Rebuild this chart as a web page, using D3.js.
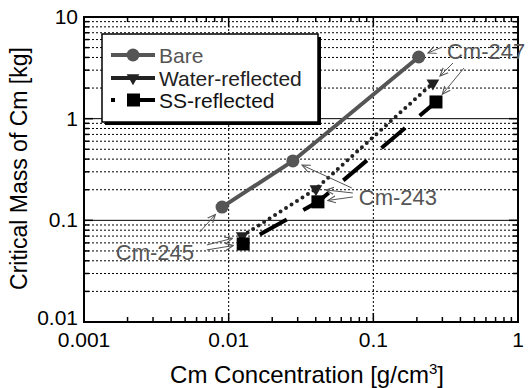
<!DOCTYPE html>
<html>
<head>
<meta charset="utf-8">
<script src="https://cdn.jsdelivr.net/npm/d3@7"></script>
<style>
  body { margin: 0; background: #fff; }
  text { font-family: "Liberation Sans", Arial, sans-serif; }
</style>
</head>
<body>
<div id="chart"></div>
<script>
// Datos
const bareX = [0.0090, 0.0278, 0.206];
const bareY = [0.135, 0.384, 4.04];
const waterX = [0.0124, 0.0401, 0.258];
const waterY = [0.0703, 0.204, 2.24];
const ssX = [0.0126, 0.0414, 0.271];
const ssY = [0.0586, 0.152, 1.46];

const xTicks = [0.001, 0.01, 0.1, 1];
const xTickLabels = ["0.001", "0.01", "0.1", "1"];
const yTicks = [0.01, 0.1, 1, 10];
const yTickLabels = ["0.01", "0.1", "1", "10"];

const legendLabels = ["Bare", "Water-reflected", "SS-reflected"];
const isotopes = ["Cm-245", "Cm-243", "Cm-247"];

// Dimensiones
const W = 532, H = 388;
const margin = { top: 17, right: 14, bottom: 66, left: 84 };
const width = W - margin.left - margin.right;
const height = H - margin.top - margin.bottom;

const svg = d3.select("#chart").append("svg")
    .attr("width", W).attr("height", H);

const defs = svg.append("defs");
defs.append("marker")
    .attr("id", "arrow")
    .attr("viewBox", "0 0 10 10")
    .attr("refX", 9).attr("refY", 5)
    .attr("markerWidth", 9).attr("markerHeight", 9)
    .attr("markerUnits", "userSpaceOnUse")
    .attr("orient", "auto")
    .append("path")
    .attr("d", "M0,1 L9,5 L0,9")
    .attr("fill", "none")
    .attr("stroke", "#555")
    .attr("stroke-width", 1.2);

const g = svg.append("g").attr("transform", `translate(${margin.left},${margin.top})`);

const x = d3.scaleLog().domain([0.001, 1]).range([0, width]);
const y = d3.scaleLog().domain([0.01, 10]).range([height, 0]);

// Valores menores (2..9 por década)
const minorY = [];
[0.01, 0.1, 1].forEach(d => { for (let k = 2; k <= 9; k++) minorY.push(d * k); });
const minorX = [];
[0.001, 0.01, 0.1].forEach(d => { for (let k = 2; k <= 9; k++) minorX.push(d * k); });

// Rejilla
g.selectAll(".hgrid").data(minorY).enter().append("line")
    .attr("x1", 0).attr("x2", width)
    .attr("y1", d => y(d)).attr("y2", d => y(d))
    .attr("stroke", "#000").attr("stroke-width", 1)
    .attr("stroke-dasharray", "2,2");
g.selectAll(".hmajor").data([0.1, 1]).enter().append("line")
    .attr("x1", 0).attr("x2", width)
    .attr("y1", d => y(d)).attr("y2", d => y(d))
    .attr("stroke", "#000").attr("stroke-width", 1);
g.selectAll(".vgrid").data([0.01, 0.1]).enter().append("line")
    .attr("y1", 0).attr("y2", height)
    .attr("x1", d => x(d)).attr("x2", d => x(d))
    .attr("stroke", "#000").attr("stroke-width", 1)
    .attr("stroke-dasharray", "2,2");

// Marcas hacia dentro en los cuatro lados
const tickG = g.append("g").attr("stroke", "#000").attr("stroke-width", 1.5);
minorY.forEach(v => {
    tickG.append("line").attr("x1", 0).attr("x2", 5).attr("y1", y(v)).attr("y2", y(v));
    tickG.append("line").attr("x1", width - 5).attr("x2", width).attr("y1", y(v)).attr("y2", y(v));
});
yTicks.forEach(v => {
    tickG.append("line").attr("x1", 0).attr("x2", 9).attr("y1", y(v)).attr("y2", y(v));
    tickG.append("line").attr("x1", width - 9).attr("x2", width).attr("y1", y(v)).attr("y2", y(v));
});
minorX.forEach(v => {
    tickG.append("line").attr("y1", height).attr("y2", height - 5).attr("x1", x(v)).attr("x2", x(v));
    tickG.append("line").attr("y1", 0).attr("y2", 5).attr("x1", x(v)).attr("x2", x(v));
});
xTicks.forEach(v => {
    tickG.append("line").attr("y1", height).attr("y2", height - 9).attr("x1", x(v)).attr("x2", x(v));
    tickG.append("line").attr("y1", 0).attr("y2", 9).attr("x1", x(v)).attr("x2", x(v));
});

// Marco
g.append("rect").attr("width", width).attr("height", height)
    .attr("fill", "none").attr("stroke", "#000").attr("stroke-width", 2);

// Etiquetas de los ejes
g.selectAll(".xlab").data(xTicks).enter().append("text")
    .attr("x", d => x(d)).attr("y", height + 25)
    .attr("text-anchor", "middle").style("font-size", "21px")
    .text((d, i) => xTickLabels[i]);
g.selectAll(".ylab").data(yTicks).enter().append("text")
    .attr("x", -6).attr("y", (d, i) => y(d) - (i === 0 ? 4 : 0)).attr("dy", "0.33em")
    .attr("text-anchor", "end").style("font-size", "21px")
    .text((d, i) => yTickLabels[i]);

const xt = g.append("text")
    .attr("x", width / 2 + 6).attr("y", height + 61)
    .attr("text-anchor", "middle").style("font-size", "24px");
xt.append("tspan").text("Cm Concentration [g/cm");
xt.append("tspan").attr("dy", -9).style("font-size", "15px").text("3");
xt.append("tspan").attr("dy", 9).text("]");

g.append("text")
    .attr("transform", `translate(${-57},${height / 2 - 1}) rotate(-90)`)
    .attr("text-anchor", "middle").style("font-size", "23px")
    .text("Critical Mass of Cm [kg]");

// Series
const pts = (xs, ys) => xs.map((v, i) => [x(v), y(ys[i])]);
const line = d3.line();

g.append("path").attr("d", line(pts(bareX, bareY)))
    .attr("fill", "none").attr("stroke", "#555").attr("stroke-width", 4);
g.append("path").attr("d", line(pts(waterX, waterY)))
    .attr("fill", "none").attr("stroke", "#222").attr("stroke-width", 4)
    .attr("stroke-linecap", "round").attr("stroke-dasharray", "0,6.5");
g.append("path").attr("d", line(pts(ssX, ssY)))
    .attr("fill", "none").attr("stroke", "#000").attr("stroke-width", 4)
    .attr("stroke-dasharray", "31,19").attr("stroke-dashoffset", 31);

const tri = d3.symbol().type(d3.symbolTriangle).size(70);
g.selectAll(".bare").data(pts(bareX, bareY)).enter().append("circle")
    .attr("cx", d => d[0]).attr("cy", d => d[1]).attr("r", 6.5).attr("fill", "#555");
g.selectAll(".water").data(pts(waterX, waterY)).enter().append("path")
    .attr("d", tri).attr("fill", "#222")
    .attr("transform", d => `translate(${d[0]},${d[1]}) rotate(180)`);
g.selectAll(".ss").data(pts(ssX, ssY)).enter().append("rect")
    .attr("x", d => d[0] - 6.5).attr("y", d => d[1] - 6.5)
    .attr("width", 13).attr("height", 13).attr("fill", "#000");

// Anotaciones de isótopos: posición del texto (datos) y orígenes de flecha (px relativos al texto)
const annX = [0.00166, 0.0794, 0.323];
const annY = [0.0408, 0.1416, 3.86];
const arrowOffsets = [
    [[84, -28], [91, -15], [91, -10]],
    [[-7, -17], [-6, -12], [-6, -8]],
    [[-5, -12], [6, 4], [17, 9]]
];
const seriesPts = [pts(bareX, bareY), pts(waterX, waterY), pts(ssX, ssY)];

isotopes.forEach((label, i) => {
    const tx = x(annX[i]), ty = y(annY[i]);
    g.append("text").attr("x", tx).attr("y", ty)
        .style("font-size", "22px").attr("fill", "#555").text(label);
    arrowOffsets[i].forEach((o, s) => {
        const sx = tx + o[0], sy = ty + o[1];
        const t = seriesPts[s][i];
        const dx = sx - t[0], dy = sy - t[1];
        const len = Math.hypot(dx, dy);
        const gap = 10;
        g.append("line")
            .attr("x1", sx).attr("y1", sy)
            .attr("x2", t[0] + dx / len * gap).attr("y2", t[1] + dy / len * gap)
            .attr("stroke", "#555").attr("stroke-width", 1)
            .attr("marker-end", "url(#arrow)");
    });
});

// Leyenda
const lg = svg.append("g").attr("transform", "translate(102,34)");
lg.append("rect").attr("x", 3).attr("y", 3).attr("width", 216).attr("height", 88).attr("fill", "#000");
lg.append("rect").attr("width", 216).attr("height", 88)
    .attr("fill", "#fff").attr("stroke", "#000").attr("stroke-width", 1.5);

const rows = [21, 44, 66];
const colors = ["#555", "#222", "#000"];
const textColors = ["#555", "#222", "#111"];
rows.forEach((ry, i) => {
    const item = lg.append("g").attr("transform", `translate(0,${ry})`);
    const ln = item.append("line").attr("x1", 9).attr("x2", 53).attr("y1", 0).attr("y2", 0)
        .attr("stroke", colors[i]).attr("stroke-width", 4);
    if (i === 0) item.append("circle").attr("cx", 31).attr("cy", 0).attr("r", 6.5).attr("fill", colors[i]);
    if (i === 1) item.append("path").attr("d", tri).attr("fill", colors[i]).attr("transform", "translate(31,0) rotate(180)");
    if (i === 2) {
        ln.attr("stroke-dasharray", "4,14,30");
        item.append("rect").attr("x", 25).attr("y", -6.5).attr("width", 13).attr("height", 13).attr("fill", "#000");
    }
    item.append("text").attr("x", 57).attr("y", 0).attr("dy", "0.36em")
        .style("font-size", "21px").attr("fill", textColors[i]).text(legendLabels[i]);
});
</script>
</body>
</html>
